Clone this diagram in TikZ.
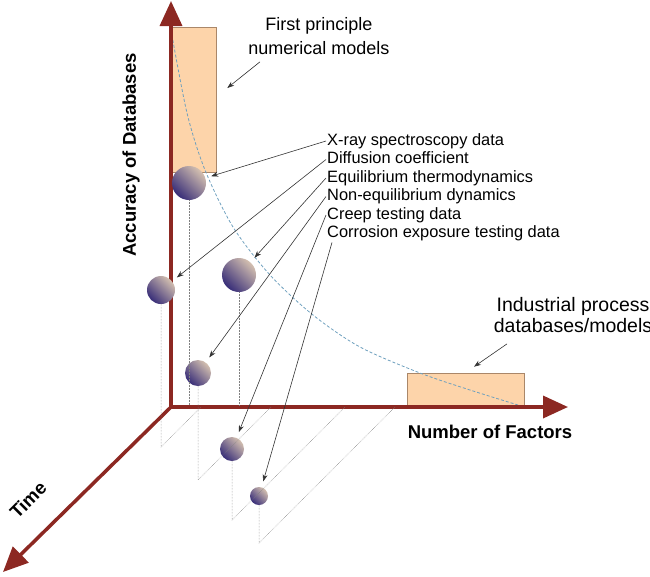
\documentclass[tikz,border=0pt]{standalone}
\usepackage{fontspec}
\setmainfont{Liberation Sans}
\usetikzlibrary{arrows.meta,positioning}

\definecolor{axisred}{RGB}{140,40,34}
\definecolor{peach}{RGB}{253,212,170}
\definecolor{peachline}{RGB}{170,135,105}
\definecolor{curveblue}{RGB}{110,160,190}
\definecolor{balllight}{RGB}{212,192,176}
\definecolor{balldark}{RGB}{55,45,120}

\begin{document}
\begin{tikzpicture}[x=1pt,y=-1pt,
    axis/.style={draw=axisred, line width=3.5pt, >={Triangle[length=25pt,width=22pt]}},
    block/.style={draw=peachline, fill=peach, line width=0.6pt, inner sep=0pt},
    ball/.style={circle, inner sep=0pt, top color=balllight, bottom color=balldark, shading angle=-45},
    drop/.style={draw=gray, line width=0.5pt, densely dotted},
    curve/.style={draw=curveblue, line width=0.8pt, dash pattern=on 3pt off 2pt},
    pointer/.style={draw=black!80, line width=0.6pt, -{Stealth[length=7pt,width=5pt]}, shorten >=6pt},
    item/.style={anchor=west, inner sep=1pt, text height=12pt, text depth=3.5pt, font=\fontsize{16.4}{18}\selectfont},
    note/.style={align=center, inner sep=1pt, font=\fontsize{18}{24}\selectfont},
    axislabel/.style={font=\fontsize{18.5}{22}\selectfont\bfseries}]
  \useasboundingbox (0,0) rectangle (650,576);

  % the two model regions
  \node[block, minimum width=45pt, minimum height=145pt] (tall) at (193.5,99.5) {};
  \node[block, minimum width=117pt, minimum height=34pt] (flat) at (465.5,390) {};

  \draw[curve] plot[smooth] coordinates {(171,30) (187,113) (205,170) (233,227) (270,275)
    (313,315) (360,347) (420,373) (470,390) (518,405)};

  % axes
  \coordinate (O) at (171,407);
  \coordinate (ytip) at (171,1);
  \coordinate (xtip) at (568,407);
  \coordinate (ttip) at (3,572);
  \draw[axis,<->] (ytip) -- (O) -- (xtip);
  \draw[axis,->] (O) -- (ttip);

  % data sets
  \node[ball, minimum size=34pt] (b1) at (189,183) {};
  \node[ball, minimum size=28pt] (b2) at (161,290) {};
  \node[ball, minimum size=34pt] (b3) at (239,275) {};
  \node[ball, minimum size=26pt] (b4) at (198,373) {};
  \node[ball, minimum size=24pt] (b5) at (232,449) {};
  \node[ball, minimum size=18pt] (b6) at (259,496) {};

  % projections on the floor
  \coordinate (f2) at (161,447);
  \coordinate (f4) at (198,480);
  \coordinate (f5) at (232,520);
  \coordinate (f6) at (259,543);
  \draw[drop] (b1.south) -- (189,405);
  \draw[drop] (b3.south) -- (239,405);
  \draw[drop] (b2.south) -- (f2) -- (201,407);
  \draw[drop] (b4.south) -- (f4) -- (271,407);
  \draw[drop] (b5.south) -- (f5) -- (345,407);
  \draw[drop] (b6.south) -- (f6) -- (395,407);

  \node[axislabel, rotate=90] (acc) at (131,155) {Accuracy of Databases};
  \node[axislabel] (nof) at (490,432) {Number of Factors};
  \node[axislabel, rotate=45] (time) at (28,500) {Time};

  \node[note] (fp) at (319,36) {First principle\\numerical models};
  \node[note, font=\fontsize{19.5}{21}\selectfont] (ip) at (573,315) {Industrial process\\databases/models};
  \draw[pointer, shorten >=0pt] ([xshift=-59pt,yshift=-6pt]fp.south) -- ([xshift=11pt,yshift=11.5pt]tall.east);
  \draw[pointer, shorten >=0pt] ([xshift=-66pt,yshift=-10pt]ip.south) -- ([xshift=8.5pt,yshift=6pt]flat.north);

  \node[item] (xray) at (326,141) {X-ray spectroscopy data};
  \node[item] (diff) at (326,159.5) {Diffusion coefficient};
  \node[item] (equi) at (326,178) {Equilibrium thermodynamics};
  \node[item] (noneq) at (326,196.5) {Non-equilibrium dynamics};
  \node[item] (creep) at (326,215) {Creep testing data};
  \node[item] (corr) at (326,233.5) {Corrosion exposure testing data};

  \draw[pointer] (xray.west) -- (b1);
  \draw[pointer] (diff.west) -- (b2);
  \draw[pointer] (equi.west) -- (b3);
  \draw[pointer] (noneq.west) -- (b4);
  \draw[pointer] (creep.west) -- (b5);
  \draw[pointer] ([xshift=6pt]corr.south west) -- (b6);
\end{tikzpicture}
\end{document}
